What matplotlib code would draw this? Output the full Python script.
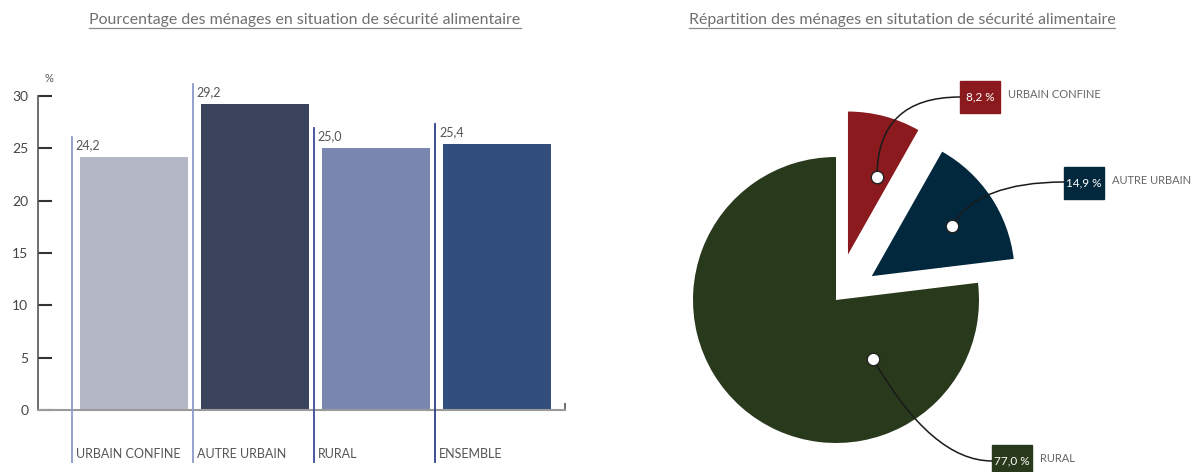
import matplotlib.pyplot as plt
from matplotlib.lines import Line2D
from matplotlib.patches import Rectangle

plt.rcParams['font.family'] = ['Lato', 'DejaVu Sans']

# bar chart data
categories = ["URBAIN CONFINE", "AUTRE URBAIN", "RURAL", "ENSEMBLE"]
values = [24.2, 29.2, 25.0, 25.4]
value_labels = ["24,2", "29,2", "25,0", "25,4"]
bar_colors = ["#b4b7c6", "#3b435c", "#7987b0", "#314e7c"]
guide_colors = ["#8e9ac8", "#8e9ac8", "#3d4d95", "#2f3f8a"]
y_ticks = [0, 5, 10, 15, 20, 25, 30]

# pie chart data
pie_labels = ["URBAIN CONFINE", "AUTRE URBAIN", "RURAL"]
pie_values = [8.2, 14.9, 77.0]
pie_value_labels = ["8,2 %", "14,9 %", "77,0 %"]
pie_colors = ["#8b1a1e", "#02283d", "#29391b"]

W, H = 1194, 472
fig = plt.figure(figsize=(W / 100, H / 100), dpi=100)

# ---------------- bar chart ----------------
ax = fig.add_axes([38 / W, (H - 410) / H, (565 - 38) / W, (410 - 96) / H])
x = list(range(len(categories)))
ax.bar(x, values, width=0.89, color=bar_colors, zorder=2)
ax.set_xlim(-0.793, 3.562)
ax.set_ylim(0, 30)

for s in ["top", "right"]:
    ax.spines[s].set_visible(False)
ax.spines["left"].set_color("#555555")
ax.spines["bottom"].set_color("#9a9a9a")
ax.spines["left"].set_linewidth(1.2)
ax.spines["bottom"].set_linewidth(1.5)

ax.set_yticks(y_ticks)
ax.tick_params(axis="y", direction="in", length=10, width=1.5, color="#333333",
               labelsize=10, labelcolor="#444444", pad=7)
ax.set_xticks([3.562])
ax.set_xticklabels([""])
ax.tick_params(axis="x", direction="in", length=5, width=1.2, color="#555555")

for i, (v, lab, cat, gc) in enumerate(zip(values, value_labels, categories, guide_colors)):
    ax.add_line(Line2D([i - 0.51, i - 0.51], [-5.0, v + 1.9], color=gc, lw=1.3,
                       clip_on=False, zorder=3))
    ax.text(i - 0.48, v + 1.15, lab, ha="left", va="center", fontsize=9,
            color="#555555", clip_on=False)
    ax.text(i - 0.48, -4.2, cat, ha="left", va="center", fontsize=9,
            color="#555555", clip_on=False)

ax.text(0.012, 31.7, "%", transform=ax.get_yaxis_transform(), fontsize=8,
        color="#555555", ha="left", va="center")

# ---------------- pie chart ----------------
# pie axes in pixel-like data units (y measured from bottom)
pax = fig.add_axes([600 / W, 0, (W - 600) / W, 1])
pie_explode = [47, 43, 0]   # offsets in data units (pixels)
wedges, _ = pax.pie(pie_values, colors=pie_colors, explode=pie_explode,
                    startangle=90, counterclock=False, center=(836, H - 300),
                    radius=143, wedgeprops=dict(linewidth=0))
pax.set_xlim(600, W)
pax.set_ylim(0, H)
pax.set_aspect("equal")
pax.axis("off")

# label layout (pixel positions, y measured from top)
dots = [(877, 177), (952, 226), (873, 359)]
boxes = [(960, 81), (1064, 167), (992, 445)]
conn_styles = ["angle3,angleA=0,angleB=90",
               "angle3,angleA=0,angleB=60",
               "angle3,angleA=0,angleB=-60"]
anchor_dy = [16, 15, 16]

for i in range(len(pie_values)):
    dx, dy = dots[i]
    bx, by = boxes[i]
    pax.annotate("", xy=(dx, H - dy), xytext=(bx, H - by - anchor_dy[i]),
                 arrowprops=dict(arrowstyle="-", color="#1a1a1a", lw=1.1,
                                 shrinkA=0, shrinkB=0,
                                 connectionstyle=conn_styles[i]), zorder=4)
    pax.plot(dx, H - dy, "o", ms=9, mfc="white", mec="#222222", mew=1.0, zorder=5)
    pax.add_patch(Rectangle((bx, H - by - 32), 40, 32, color=pie_colors[i],
                            zorder=6, clip_on=False))
    pax.text(bx + 20, H - by - 16, pie_value_labels[i], ha="center", va="center",
             fontsize=8.5, color="white", zorder=7)
    pax.text(bx + 48, H - by - 13, pie_labels[i], ha="left", va="center",
             fontsize=8, color="#666666", zorder=7)

# ---------------- titles (underlined) ----------------
titles = [(305, "Pourcentage des ménages en situation de sécurité alimentaire"),
          (902, "Répartition des ménages en situtation de sécurité alimentaire")]
title_artists = []
for cx, t in titles:
    title_artists.append(fig.text(cx / W, 1 - 20 / H, t, ha="center", va="center",
                                  fontsize=11.4, color="#707070"))

fig.canvas.draw()
for ta in title_artists:
    bb = ta.get_window_extent()
    yline = bb.y0 - 1
    fig.add_artist(Line2D([bb.x0 / W, bb.x1 / W], [yline / H, yline / H],
                          color="#8a8a8a", lw=0.9, transform=fig.transFigure))

fig.savefig("out.png", dpi=100)
